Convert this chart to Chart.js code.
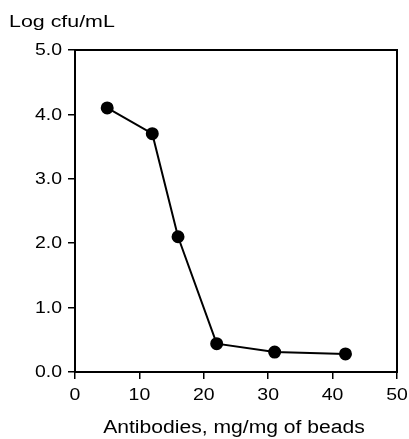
<!DOCTYPE html>
<html>
<head>
<meta charset="utf-8">
<script src="https://cdn.jsdelivr.net/npm/chart.js@4"></script>
<style>
  html, body { margin: 0; padding: 0; background: #fff; }
  #c { display: block; }
</style>
</head>
<body>
<canvas id="c" width="409" height="439"></canvas>
<script>
// antibody dose vs log cfu
const antibodies = [5, 12, 16, 22, 31, 42];
const logCfu = [4.1, 3.7, 2.1, 0.44, 0.31, 0.28];
const xTicks = [0, 10, 20, 30, 40, 50];
const yTicks = [0, 1, 2, 3, 4, 5];

const yTitle = 'Log cfu/mL';
const xTitle = 'Antibodies, mg/mg of beads';
const FONT = '"Liberation Sans", Arial, Helvetica, sans-serif';

// the original lettering is a bit wider than Arial, so text is drawn stretched
function wideText(ctx, str, x, y, size, sx, align, base) {
    ctx.save();
    ctx.font = size + 'px ' + FONT;
    ctx.textAlign = align;
    ctx.textBaseline = base;
    ctx.translate(x, y);
    ctx.scale(sx, 1);
    ctx.fillText(str, 0, 0);
    ctx.restore();
}

// frame, tick labels and titles
const framePlugin = {
    id: 'frame',
    afterDraw(chart) {
        const { ctx, chartArea: a, scales } = chart;
        ctx.save();
        ctx.strokeStyle = '#000';
        ctx.lineWidth = 2;
        ctx.strokeRect(a.left, a.top, a.right - a.left, a.bottom - a.top);
        ctx.fillStyle = '#000';

        yTicks.forEach(v => {
            wideText(ctx, v.toFixed(1), 62, scales.y.getPixelForValue(v) + 0.5, 16.8, 1.16, 'right', 'middle');
        });
        xTicks.forEach(v => {
            wideText(ctx, String(v), scales.x.getPixelForValue(v), 400, 16.8, 1.16, 'center', 'alphabetic');
        });

        wideText(ctx, yTitle, 9, 27.3, 17.4, 1.23, 'left', 'alphabetic');
        wideText(ctx, xTitle, (a.left + a.right) / 2 - 2, 432.7, 17.6, 1.2, 'center', 'alphabetic');
        ctx.restore();
    }
};

new Chart(document.getElementById('c'), {
    type: 'scatter',
    data: {
        datasets: [{
            data: antibodies.map((x, i) => ({ x, y: logCfu[i] })),
            showLine: true,
            borderColor: '#000',
            borderWidth: 2,
            backgroundColor: '#000',
            pointBackgroundColor: '#000',
            pointBorderColor: '#000',
            pointRadius: 5.5,
            tension: 0
        }]
    },
    options: {
        responsive: false,
        animation: false,
        layout: { padding: { top: 50, left: 0, right: 12, bottom: 0 } },
        plugins: { legend: { display: false }, tooltip: { enabled: false } },
        scales: {
            x: {
                type: 'linear',
                min: 0, max: 50,
                afterBuildTicks: s => { s.ticks = xTicks.map(v => ({ value: v })); },
                afterFit: s => { s.height = 67; },
                border: { display: true, color: '#000', width: 2 },
                grid: { drawOnChartArea: false, tickLength: 7, color: '#000', lineWidth: 1.5 },
                ticks: { display: false }
            },
            y: {
                type: 'linear',
                min: 0, max: 5,
                afterBuildTicks: s => { s.ticks = yTicks.map(v => ({ value: v })); },
                afterFit: s => { s.width = 75; },
                border: { display: true, color: '#000', width: 2 },
                grid: { drawOnChartArea: false, tickLength: 7, color: '#000', lineWidth: 1.5 },
                ticks: { display: false }
            }
        }
    },
    plugins: [framePlugin]
});
</script>
</body>
</html>
